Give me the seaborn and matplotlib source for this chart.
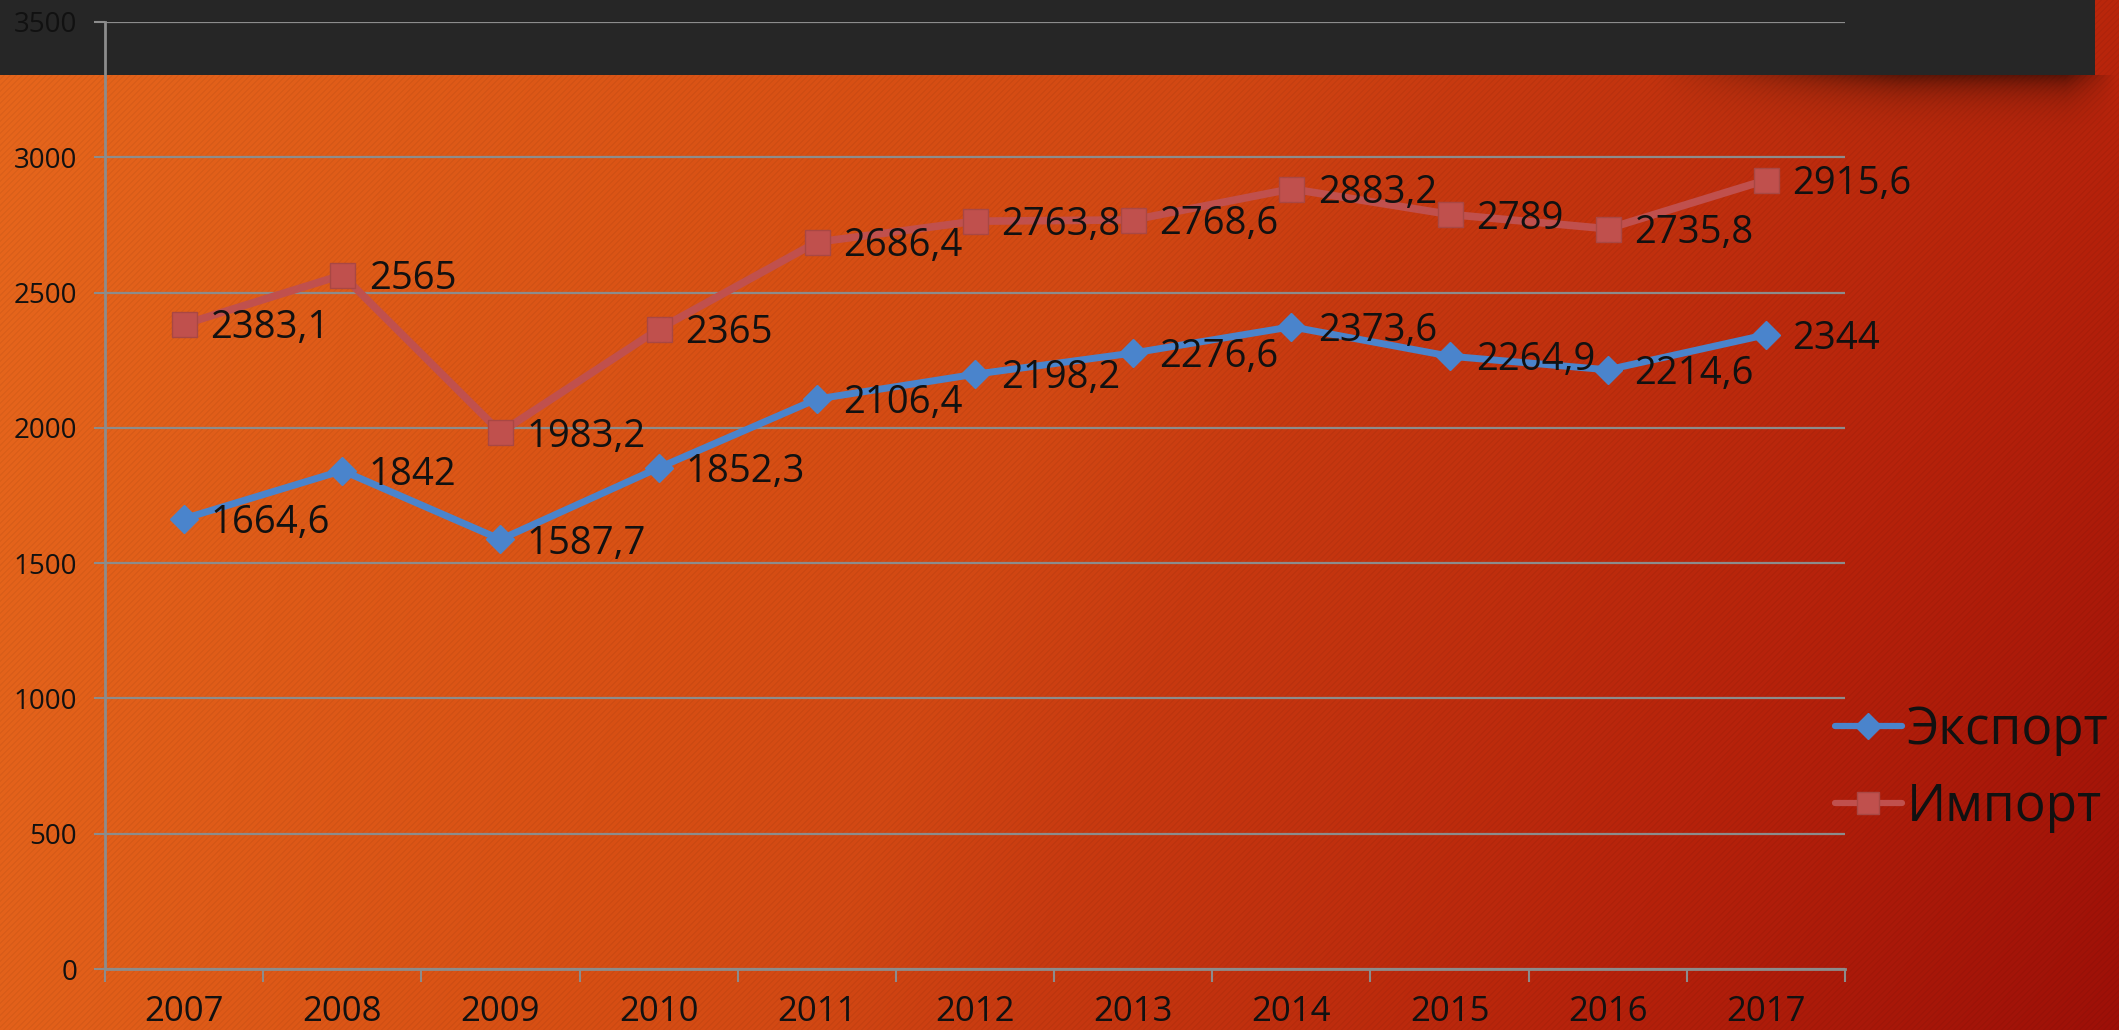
import numpy as np
import pandas as pd
import matplotlib
matplotlib.use("Agg")
import matplotlib.pyplot as plt
import seaborn as sns
from matplotlib.lines import Line2D
from matplotlib.ticker import FixedLocator

# ---------------- data ----------------
years = ["2007", "2008", "2009", "2010", "2011", "2012", "2013", "2014", "2015", "2016", "2017"]
export_vals = [1664.6, 1842, 1587.7, 1852.3, 2106.4, 2198.2, 2276.6, 2373.6, 2264.9, 2214.6, 2344]
import_vals = [2383.1, 2565, 1983.2, 2365, 2686.4, 2763.8, 2768.6, 2883.2, 2789, 2735.8, 2915.6]
export_labels = ["1664,6", "1842", "1587,7", "1852,3", "2106,4", "2198,2", "2276,6", "2373,6", "2264,9", "2214,6", "2344"]
import_labels = ["2383,1", "2565", "1983,2", "2365", "2686,4", "2763,8", "2768,6", "2883,2", "2789", "2735,8", "2915,6"]
series_names = ["Экспорт", "Импорт"]
y_ticks = [0, 500, 1000, 1500, 2000, 2500, 3000, 3500]

sns.set_theme(style="white")
plt.rcParams['font.family'] = ['Open Sans', 'DejaVu Sans']

W, H = 2119, 1030
fig = plt.figure(figsize=(W / 100, H / 100), dpi=100)

# ---------------- background ----------------
bg = fig.add_axes([0, 0, 1, 1], zorder=-10)
yy, xx = np.mgrid[0:H, 0:W]
xf = xx / W
yf = yy / H
t = 0.85 * xf + 0.08 * yf + 0.25 * xf * yf
t_nodes = [0.0, 0.35, 0.5, 0.6, 0.9, 1.2]
r_nodes = [230, 216, 210, 200, 182, 155]
g_nodes = [102, 80, 72, 58, 34, 14]
b_nodes = [28, 20, 19, 16, 11, 7]
img = np.stack([np.interp(t, t_nodes, r_nodes),
                np.interp(t, t_nodes, g_nodes),
                np.interp(t, t_nodes, b_nodes)], axis=-1) / 255.0
stripes = (((xx + yy) % 6) < 2).astype(float)
img *= (1 - 0.045 * stripes[..., None])
shadow = (np.exp(-np.clip(yy - 75, 0, None) / 20.0) * (yy >= 75)
          * np.clip((xx - 1650) / 250, 0, 1) * np.clip((2115 - xx) / 50, 0, 1))
img *= (1 - 0.5 * shadow[..., None])
img[0:75, 0:2095] = 38 / 255
bg.imshow(img, aspect='auto', extent=[0, W, H, 0], interpolation='nearest')
bg.set_xlim(0, W)
bg.set_ylim(H, 0)
bg.axis('off')

# ---------------- main axes ----------------
ax = fig.add_axes([105 / W, 1 - 969 / H, 1740 / W, (969 - 22) / H])
ax.patch.set_alpha(0)
x = np.arange(len(years))

df = pd.DataFrame({"x": x, "exp": export_vals, "imp": import_vals})
sns.lineplot(data=df, x="x", y="imp", ax=ax, color="#C0504D", lw=5.5,
             marker="s", markersize=18, markeredgecolor="#A94743",
             markeredgewidth=1, zorder=3)
sns.lineplot(data=df, x="x", y="exp", ax=ax, color="#4A84CC", lw=5,
             marker="D", markersize=14, markeredgecolor="#4A84CC",
             markeredgewidth=1, zorder=4)

for xi, v, lbl in zip(x, export_vals, export_labels):
    ax.annotate(lbl, (xi, v), xytext=(19, -3), textcoords="offset points",
                ha="left", va="center", fontsize=27.5, color="#111111", zorder=5)
for xi, v, lbl in zip(x, import_vals, import_labels):
    ax.annotate(lbl, (xi, v), xytext=(19, -3), textcoords="offset points",
                ha="left", va="center", fontsize=27.5, color="#111111", zorder=5)

ax.set_xlim(-0.5, len(years) - 0.5)
ax.set_ylim(0, 3500)
ax.set_yticks(y_ticks)
ax.set_yticklabels([str(v) for v in y_ticks])
ax.set_xticks(x)
ax.set_xticklabels(years)
ax.xaxis.set_minor_locator(FixedLocator(np.arange(-0.5, len(years), 1.0)))
ax.set_xlabel("")
ax.set_ylabel("")

grid_c = "#8C8C8C"
ax.yaxis.grid(True, color=grid_c, lw=1.6)
ax.xaxis.grid(False)
ax.set_axisbelow(True)
for s in ["top", "right"]:
    ax.spines[s].set_visible(False)
for s in ["left", "bottom"]:
    ax.spines[s].set_color(grid_c)
    ax.spines[s].set_linewidth(2)

ax.tick_params(axis="y", which="major", length=8, width=1.5, color=grid_c,
               pad=12, labelsize=20, labelcolor="#111111", left=True)
ax.tick_params(axis="x", which="major", length=0, pad=19, labelsize=25,
               labelcolor="#111111", bottom=True)
ax.tick_params(axis="x", which="minor", length=9, width=1.5, color=grid_c,
               bottom=True, direction="out")

# ---------------- legend ----------------
handles = [
    Line2D([], [], color="#4A84CC", lw=4.5, marker="D", markersize=13),
    Line2D([], [], color="#C0504D", lw=4.5, marker="s", markersize=16,
           markeredgecolor="#A94743"),
]
fig.legend(handles, series_names, loc="center left",
           bbox_to_anchor=(1835 / W, 1 - 769 / H), frameon=False,
           fontsize=37, handlelength=1.3, handletextpad=0.1,
           labelspacing=0.5, borderpad=0, borderaxespad=0,
           labelcolor="#111111")

fig.savefig("out.png", dpi=100)
